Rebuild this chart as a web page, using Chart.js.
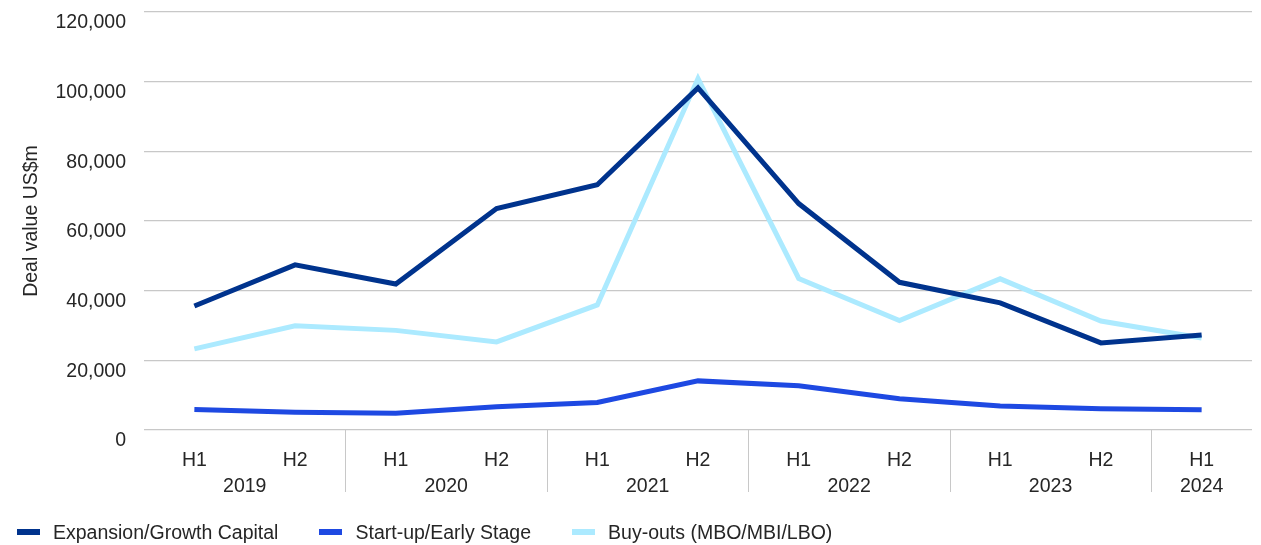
<!DOCTYPE html>
<html>
<head>
<meta charset="utf-8">
<script src="https://cdn.jsdelivr.net/npm/chart.js@4/dist/chart.umd.min.js"></script>
<style>
html, body { margin: 0; padding: 0; background: #fff; }
#wrap { position: relative; width: 1261px; height: 545px; }
#legend {
    position: absolute; left: 17px; top: 520px; height: 24px;
    display: flex; align-items: center;
    font-family: 'Liberation Sans', Arial, sans-serif; font-size: 19.5px; color: #262626;
}
#legend .item { display: flex; align-items: center; margin-right: 41px; }
#legend .box { width: 23px; height: 6px; margin-right: 13px; }
</style>
</head>
<body>
<div id="wrap">
    <canvas id="dealChart"></canvas>
    <div id="legend"></div>
</div>
<script>
// categories
const periods = ["H1","H2","H1","H2","H1","H2","H1","H2","H1","H2","H1"];
const years = ["2019","2020","2021","2022","2023","2024"];
const yearSpans = [2,2,2,2,2,1];

// series (US$m)
const expansion = [35600, 47400, 41900, 63600, 70400, 98200, 65000, 42400, 36500, 25000, 27300];
const startup   = [5900, 5100, 4800, 6700, 7900, 14100, 12700, 9000, 6900, 6100, 5800];
const buyouts   = [23300, 29900, 28600, 25300, 35900, 100900, 43500, 31400, 43400, 31300, 26400];

const seriesNames = ["Expansion/Growth Capital", "Start-up/Early Stage", "Buy-outs (MBO/MBI/LBO)"];
const seriesColors = ["#00338d", "#1e49e2", "#acEAFF"];

// centre of each year group, in category index units
let start = 0;
const yearCenters = yearSpans.map(span => {
    const c = start + (span - 1) / 2;
    start += span;
    return c;
});

Chart.defaults.font.family = "'Liberation Sans', Arial, sans-serif";
Chart.defaults.font.size = 19.5;
Chart.defaults.color = "#262626";

// vertical separators between year groups
const groupLines = {
    id: "groupLines",
    afterDraw(chart) {
        const x2 = chart.scales.x2;
        const ctx = chart.ctx;
        let idx = 0;
        ctx.save();
        ctx.strokeStyle = "#c8c8c8";
        ctx.lineWidth = 1;
        yearSpans.slice(0, -1).forEach(span => {
            idx += span;
            const px = Math.round(x2.getPixelForValue(idx - 0.5)) + 0.5;
            ctx.beginPath();
            ctx.moveTo(px, chart.chartArea.bottom);
            ctx.lineTo(px, x2.bottom - 10);
            ctx.stroke();
        });
        ctx.restore();
    }
};

const allSeries = [expansion, startup, buyouts];

new Chart(document.getElementById("dealChart"), {
    type: "line",
    data: {
        labels: periods,
        datasets: allSeries.map((d, i) => ({
            label: seriesNames[i],
            data: d,
            borderColor: seriesColors[i],
            backgroundColor: seriesColors[i],
            borderWidth: 5,
            pointRadius: 0,
            tension: 0,
            fill: false,
            xAxisID: "x"
        }))
    },
    options: {
        responsive: true,
        maintainAspectRatio: false,
        animation: false,
        layout: { padding: { top: 12, right: 9, bottom: 43, left: 0 } },
        plugins: {
            legend: { display: false },
            tooltip: { enabled: false }
        },
        scales: {
            x: {
                type: "category",
                offset: true,
                grid: { display: false },
                border: { display: false },
                ticks: { padding: 11, maxRotation: 0, autoSkip: false },
                afterFit: s => { s.height = 37; }
            },
            x2: {
                type: "linear",
                position: "bottom",
                min: -0.5,
                max: 10.5,
                grid: { display: false },
                border: { display: false },
                afterBuildTicks: s => { s.ticks = yearCenters.map(v => ({ value: v })); },
                ticks: {
                    padding: 0, autoSkip: false, maxRotation: 0,
                    callback: (v, i) => years[i]
                },
                afterFit: s => { s.height = 35; }
            },
            y: {
                min: 0,
                max: 120000,
                grid: { color: "#c8c8c8", lineWidth: 1.3, drawTicks: false },
                border: { display: false },
                ticks: {
                    stepSize: 20000,
                    padding: 18,
                    labelOffset: 11,
                    callback: v => v.toLocaleString("en-US")
                },
                title: {
                    display: true,
                    text: "Deal value US$m",
                    padding: { top: 20, bottom: 0 }
                },
                afterFit: s => {
                    s.width = 144;
                    s.paddingTop = 0;
                    s.paddingBottom = 0;
                }
            }
        }
    },
    plugins: [groupLines]
});

// legend
const legend = document.getElementById("legend");
seriesNames.forEach((name, i) => {
    const item = document.createElement("div");
    item.className = "item";
    item.innerHTML = `<span class="box" style="background:${seriesColors[i]}"></span><span>${name}</span>`;
    legend.appendChild(item);
});
</script>
</body>
</html>
